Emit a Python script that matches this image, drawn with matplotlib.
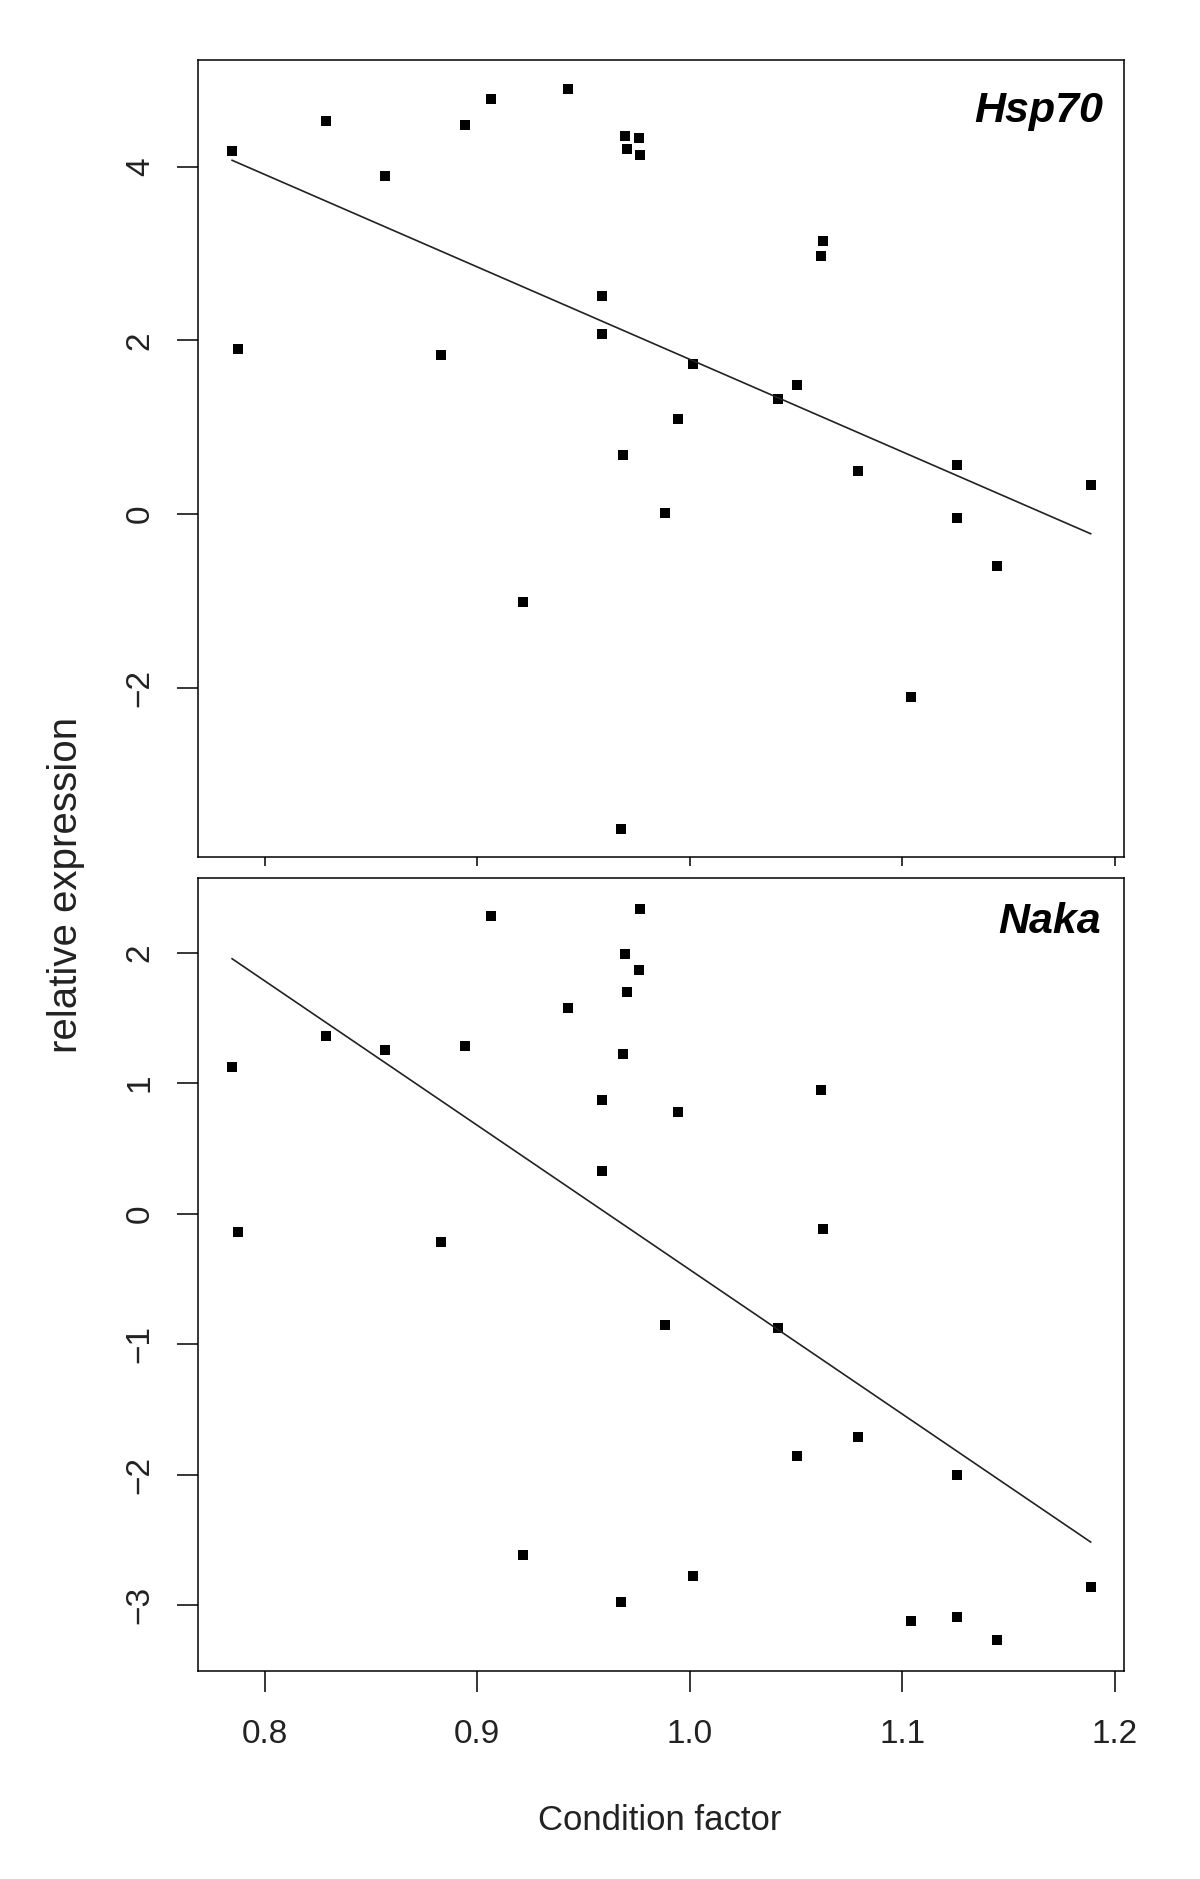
import numpy as np
import matplotlib
matplotlib.use("Agg")
import matplotlib.pyplot as plt

plt.rcParams['font.family'] = ['Liberation Sans', 'DejaVu Sans']

# Condition factor (shared by both panels)
condition = [0.7847, 0.7876, 0.8288, 0.8565, 0.8832, 0.8942, 0.9066, 0.9216,
             0.9426, 0.9588, 0.9588, 0.9677, 0.9686, 0.9698, 0.9705, 0.9760,
             0.9767, 0.9885, 0.9943, 1.0017, 1.0417, 1.0504, 1.0616, 1.0628,
             1.0792, 1.1041, 1.1257, 1.1257, 1.1446, 1.1887]
# relative expression, Hsp70
hsp70 = [4.187, 1.898, 4.529, 3.892, 1.836, 4.480, 4.787, -1.014,
         4.898, 2.516, 2.078, -3.630, 0.684, 4.353, 4.203, 4.333,
         4.137, 0.015, 1.091, 1.729, 1.329, 1.483, 2.973, 3.150,
         0.499, -2.109, 0.565, -0.050, -0.599, 0.334]
# relative expression, Naka
naka = [1.124, -0.143, 1.359, 1.254, -0.217, 1.288, 2.279, -2.613,
        1.579, 0.871, 0.330, -2.978, 1.221, 1.988, 1.699, 1.870,
        2.335, -0.853, 0.777, -2.776, -0.876, -1.854, 0.948, -0.117,
        -1.713, -3.123, -2.000, -3.093, -3.269, -2.858]

x_ticks = [0.8, 0.9, 1.0, 1.1, 1.2]
x_ticklabels = ["0.8", "0.9", "1.0", "1.1", "1.2"]
hsp_yticks = [-2, 0, 2, 4]
naka_yticks = [-3, -2, -1, 0, 1, 2]
panel_names = ["Hsp70", "Naka"]
x_label = "Condition factor"
y_label = "relative expression"

W, H = 1200, 1879
fig = plt.figure(figsize=(W / 100, H / 100), dpi=100)

def frac_box(l, t, r, b):
    return [l / W, 1 - b / H, (r - l) / W, (b - t) / H]

ax1 = fig.add_axes(frac_box(197.6, 60, 1124.3, 857.3))
ax2 = fig.add_axes(frac_box(197.6, 878.3, 1124.3, 1670.7))

x = np.array(condition)

def fmt(v):
    return str(v).replace('-', '\u2212')

for ax, yv, yt, ylim, name in [
        (ax1, hsp70, hsp_yticks, (-3.956, 5.232), panel_names[0]),
        (ax2, naka, naka_yticks, (-3.502, 2.570), panel_names[1])]:
    y = np.array(yv)
    ax.plot(x, y, linestyle='none', marker='s', markersize=7.2,
            color='black', markeredgewidth=0)
    slope, inter = np.polyfit(x, y, 1)
    xs = np.array([x.min(), x.max()])
    ax.plot(xs, inter + slope * xs, color='#222222', lw=1.2)
    ax.set_xlim(0.76847, 1.20452)
    ax.set_ylim(*ylim)
    ax.set_xticks(x_ticks)
    ax.set_yticks(yt)
    ax.set_yticklabels([fmt(v) for v in yt], rotation=90, va='center')
    ax.tick_params(axis='y', direction='out', length=15.1, width=1.1,
                   pad=15, labelsize=24, labelcolor='#222222')
    for s in ax.spines.values():
        s.set_linewidth(1.1)
    ax.text(0.9796, 0.0, name, transform=ax.transAxes)  # placeholder replaced below

# remove placeholder texts and place panel labels in pixel-precise figure coords
for ax in (ax1, ax2):
    for t in list(ax.texts):
        t.remove()
fig.text(1103 / W, 1 - 121.7 / H, panel_names[0], ha='right', va='baseline',
         fontsize=31, fontweight='bold', fontstyle='italic')
fig.text(1101 / W, 1 - 933.3 / H, panel_names[1], ha='right', va='baseline',
         fontsize=31, fontweight='bold', fontstyle='italic')

ax1.set_xticklabels([])
ax1.tick_params(axis='x', direction='out', length=6.5, width=1.1)
ax2.set_xticklabels(x_ticklabels)
ax2.tick_params(axis='x', direction='out', length=15.1, width=1.1, pad=20,
                labelsize=24, labelcolor='#222222')

fig.text(660 / W, 1 - 1830 / H, x_label, ha='center', va='baseline',
         fontsize=25, color='#222222')
fig.text(66 / W, 1 - 885 / H, y_label, ha='center', va='center',
         rotation=90, fontsize=29, color='#222222')

fig.savefig("out.png", dpi=100, facecolor='white')
